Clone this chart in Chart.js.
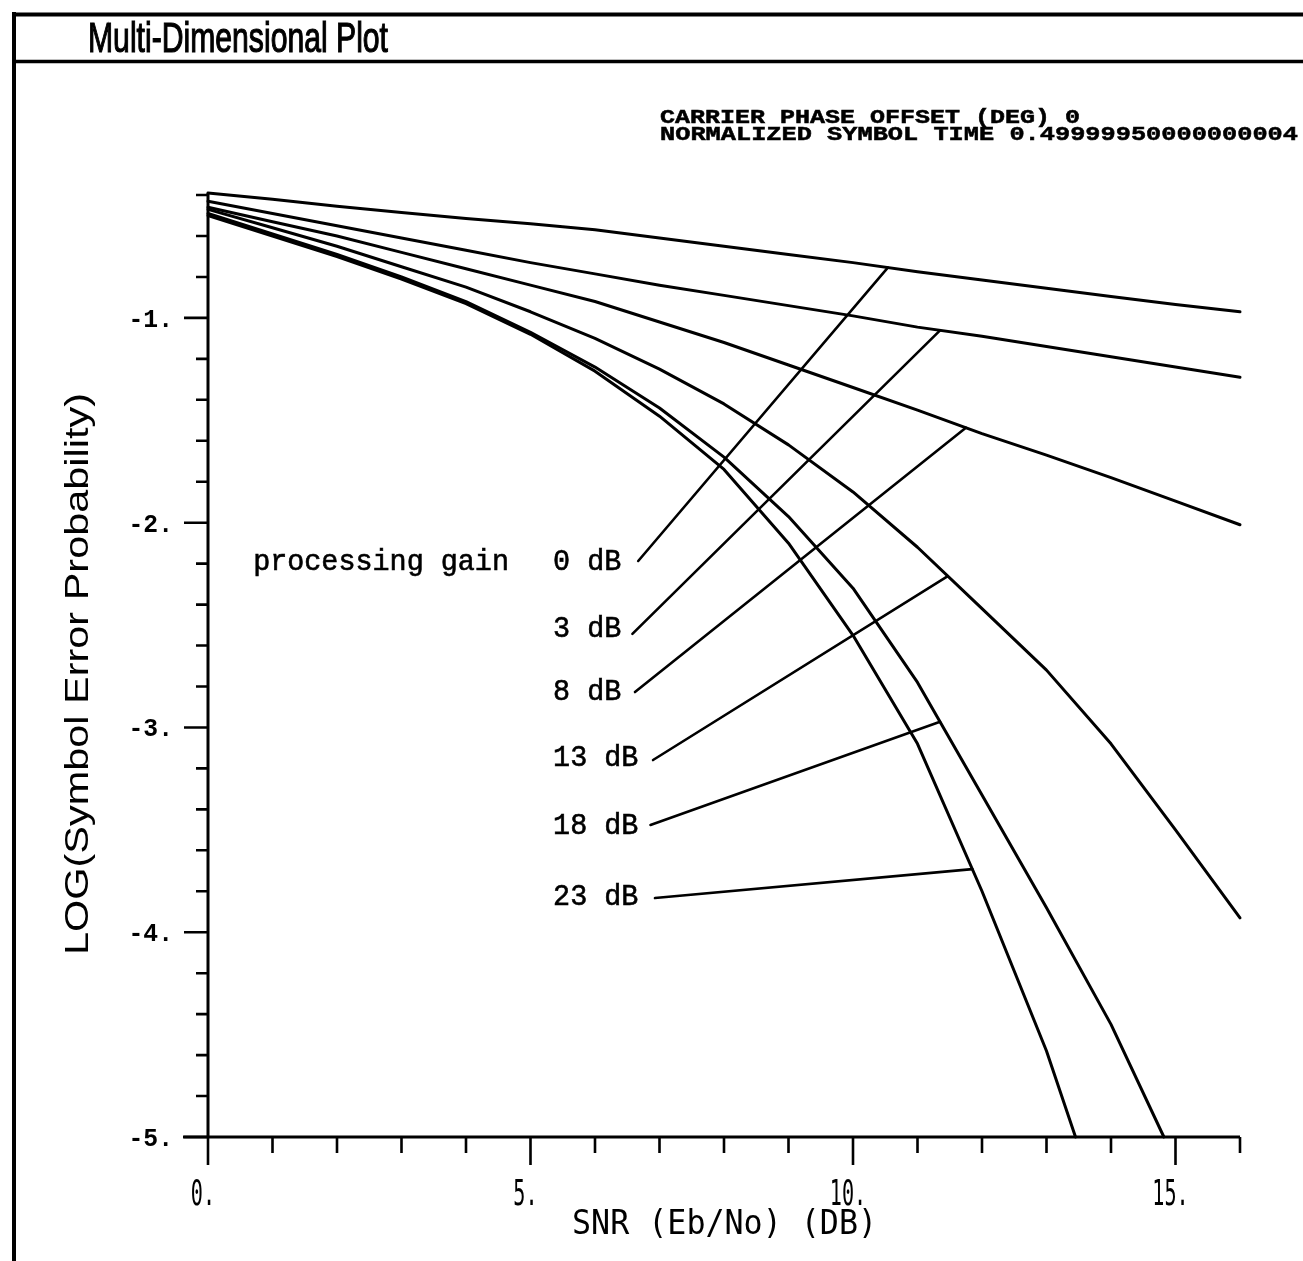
<!DOCTYPE html>
<html>
<head>
<meta charset="utf-8">
<title>Multi-Dimensional Plot</title>
<script src="https://cdn.jsdelivr.net/npm/chart.js@4/dist/chart.umd.min.js"></script>
<style>
  html, body { margin: 0; padding: 0; background: #fff; }
  canvas { display: block; }
</style>
</head>
<body>
<canvas id="plot" width="1303" height="1261"></canvas>
<script>
// SNR grid (Eb/No, dB)
const snr = [0, 1, 2, 3, 4, 5, 6, 7, 8, 9, 10, 11, 12, 13, 14, 15, 16];
const snr18 = [0, 1, 2, 3, 4, 5, 6, 7, 8, 9, 10, 11, 12, 13, 14, 14.82];
const snr23 = [0, 1, 2, 3, 4, 5, 6, 7, 8, 9, 10, 11, 12, 13, 13.45];

// log10 symbol error probability for each processing gain
const pg0  = [-0.39, -0.42, -0.455, -0.485, -0.515, -0.54, -0.57, -0.61, -0.65, -0.69, -0.73, -0.775, -0.815, -0.855, -0.895, -0.935, -0.97];
const pg3  = [-0.43, -0.49, -0.55, -0.61, -0.67, -0.73, -0.785, -0.84, -0.89, -0.94, -0.99, -1.045, -1.09, -1.14, -1.19, -1.24, -1.29];
const pg8  = [-0.46, -0.53, -0.60, -0.68, -0.76, -0.84, -0.92, -1.02, -1.12, -1.23, -1.34, -1.45, -1.565, -1.67, -1.78, -1.895, -2.01];
const pg13 = [-0.47, -0.56, -0.65, -0.75, -0.85, -0.97, -1.10, -1.25, -1.42, -1.62, -1.85, -2.12, -2.42, -2.72, -3.08, -3.50, -3.93];
const pg18 = [-0.49, -0.59, -0.69, -0.80, -0.92, -1.07, -1.24, -1.44, -1.68, -1.97, -2.32, -2.78, -3.33, -3.88, -4.45, -5.0];
const pg23 = [-0.50, -0.60, -0.70, -0.81, -0.93, -1.08, -1.26, -1.48, -1.74, -2.10, -2.55, -3.08, -3.80, -4.58, -5.0];

// curve labels
const gainLabels = ['0 dB', '3 dB', '8 dB', '13 dB', '18 dB', '23 dB'];

// tick labels
const xTickLabels = ['0.', '5.', '10.', '15.'];
const xTickValues = [0, 5, 10, 15];
const yTickLabels = ['-1.', '-2.', '-3.', '-4.', '-5.'];
const yTickValues = [-1, -2, -3, -4, -5];

// header notes
const headerLines = ['CARRIER PHASE OFFSET (DEG) 0', 'NORMALIZED SYMBOL TIME 0.49999950000000004'];

// leader geometry (data units): start near the label, end on the curve at snr = leaderEndSnr
const leaderStartSnr = [6.67, 6.58, 6.62, 6.90, 6.86, 6.93];
const leaderStartLog = [-2.187, -2.543, -2.827, -3.159, -3.476, -3.833];
const leaderEndSnr   = [10.54, 11.35, 11.75, 11.47, 11.35, 11.85];
// label anchors (data units, left edge / baseline)
const labelSnr = 5.35;
const labelLog = [-2.231, -2.558, -2.866, -3.188, -3.520, -3.867];
const captionSnr = 0.70;

const curves = [
  { xs: snr,   ys: pg0 },
  { xs: snr,   ys: pg3 },
  { xs: snr,   ys: pg8 },
  { xs: snr,   ys: pg13 },
  { xs: snr18, ys: pg18 },
  { xs: snr23, ys: pg23 }
];

function pairs(xs, ys) { return xs.map((x, i) => ({ x: x, y: ys[i] })); }

// value of a curve at snr v (piecewise linear between the tabulated points)
function curveAt(c, v) {
  for (let i = 0; i < c.xs.length - 1; i++) {
    if (v >= c.xs[i] && v <= c.xs[i + 1]) {
      const t = (v - c.xs[i]) / (c.xs[i + 1] - c.xs[i]);
      return c.ys[i] + t * (c.ys[i + 1] - c.ys[i]);
    }
  }
  return c.ys[c.ys.length - 1];
}

const datasets = [];
curves.forEach((c, i) => {
  datasets.push({
    label: 'PG ' + gainLabels[i],
    data: pairs(c.xs, c.ys),
    borderColor: '#000',
    borderWidth: 3,
    pointRadius: 0,
    tension: 0,
    borderJoinStyle: 'round',
    borderCapStyle: 'round',
    clip: false
  });
});
curves.forEach((c, i) => {
  datasets.push({
    label: 'leader ' + gainLabels[i],
    data: [
      { x: leaderStartSnr[i], y: leaderStartLog[i] },
      { x: leaderEndSnr[i], y: curveAt(c, leaderEndSnr[i]) }
    ],
    borderColor: '#000',
    borderWidth: 2.6,
    pointRadius: 0,
    tension: 0,
    borderCapStyle: 'round',
    clip: false
  });
});

// text helper: optional horizontal squeeze/stretch and fixed target width
function putText(ctx, text, x, y, o) {
  ctx.save();
  ctx.font = o.font;
  ctx.fillStyle = '#000';
  ctx.textBaseline = o.baseline || 'alphabetic';
  ctx.translate(x, y);
  if (o.rotate) ctx.rotate(o.rotate);
  const w = ctx.measureText(text).width;
  const sx = o.width ? o.width / w : (o.sx || 1);
  ctx.scale(sx, 1);
  let dx = 0;
  if (o.align === 'center') dx = -w / 2;
  else if (o.align === 'right') dx = -w;
  ctx.textAlign = 'left';
  ctx.fillText(text, dx, 0);
  if (o.stroke) {
    ctx.strokeStyle = '#000';
    ctx.lineWidth = o.stroke;
    ctx.strokeText(text, dx, 0);
  }
  ctx.restore();
}

const figurePlugin = {
  id: 'figure',
  beforeDatasetsDraw(chart) {
    const ctx = chart.ctx;
    const xs = chart.scales.x, ys = chart.scales.y;
    const X = v => xs.getPixelForValue(v);
    const Y = v => ys.getPixelForValue(v);
    ctx.save();
    ctx.strokeStyle = '#000';
    ctx.lineCap = 'butt';

    // frame and title bar
    ctx.lineWidth = 4;
    ctx.beginPath();
    ctx.moveTo(12, 14.5); ctx.lineTo(1303, 14.5);
    ctx.moveTo(14, 12);   ctx.lineTo(14, 1261);
    ctx.stroke();
    ctx.lineWidth = 3.5;
    ctx.beginPath();
    ctx.moveTo(12, 61.5); ctx.lineTo(1303, 61.5);
    ctx.stroke();

    // axes
    const x0 = X(0), yb = Y(-5);
    ctx.lineWidth = 3;
    ctx.beginPath();
    ctx.moveTo(x0, ys.top); ctx.lineTo(x0, yb + 1.5);
    ctx.moveTo(X(0) - 25, yb); ctx.lineTo(X(16), yb);
    ctx.stroke();

    // y ticks every 0.2, long at integers
    ctx.lineWidth = 2.6;
    ctx.beginPath();
    for (let k = 0; k <= 23; k++) {
      const v = -5 + k * 0.2;
      const major = Math.abs(v - Math.round(v)) < 1e-6;
      const py = Y(v);
      ctx.moveTo(x0, py); ctx.lineTo(x0 - (major ? 24 : 12), py);
    }
    // x ticks every 1, long at multiples of 5
    for (let v = 0; v <= 16; v++) {
      const major = v % 5 === 0;
      const px = X(v);
      ctx.moveTo(px, yb); ctx.lineTo(px, yb + (major ? 28 : 16));
    }
    ctx.stroke();
    ctx.restore();
  },
  afterDatasetsDraw(chart) {
    const ctx = chart.ctx;
    const xs = chart.scales.x, ys = chart.scales.y;
    const X = v => xs.getPixelForValue(v);
    const Y = v => ys.getPixelForValue(v);

    // title
    putText(ctx, 'Multi-Dimensional Plot', 88, 52, { font: '43px "Liberation Sans", Arial, sans-serif', width: 300, stroke: 1.2 });

    // header notes
    const hf = 'bold 20px "Liberation Mono", "Courier New", monospace';
    putText(ctx, headerLines[0], 660, 123, { font: hf, width: 420, stroke: 0.5 });
    putText(ctx, headerLines[1], 660, 140, { font: hf, width: 638, stroke: 0.5 });

    // y tick labels
    yTickValues.forEach((v, i) => {
      putText(ctx, yTickLabels[i], X(0) - 35, Y(v) + 9, { font: 'bold 26px "Liberation Mono", "Courier New", monospace', align: 'right', sx: 0.95 });
    });
    // x tick labels
    xTickValues.forEach((v, i) => {
      putText(ctx, xTickLabels[i], X(v) - 5, Y(-5) + 68, { font: '36px "DejaVu Sans Mono", monospace', align: 'center', sx: 0.56 });
    });

    // axis titles
    putText(ctx, 'SNR (Eb/No) (DB)', 572, 1234, { font: '34px "DejaVu Sans Mono", monospace', width: 305 });
    putText(ctx, 'LOG(Symbol Error Probability)', 88, 955, { font: '33px "Liberation Sans", Arial, sans-serif', width: 562, rotate: -Math.PI / 2 });

    // processing gain labels
    const lf = '29px "Liberation Mono", "Courier New", monospace';
    putText(ctx, 'processing gain', X(captionSnr), Y(labelLog[0]), { font: lf, sx: 0.98, stroke: 0.6 });
    gainLabels.forEach((t, i) => {
      putText(ctx, t, X(labelSnr), Y(labelLog[i]), { font: lf, sx: 0.98, stroke: 0.6 });
    });
  }
};

new Chart(document.getElementById('plot'), {
  type: 'line',
  data: { datasets: datasets },
  options: {
    responsive: false,
    animation: false,
    events: [],
    layout: { padding: { left: 208, right: 63, top: 193, bottom: 124 } },
    plugins: { legend: { display: false }, title: { display: false }, tooltip: { enabled: false } },
    scales: {
      x: { type: 'linear', min: 0, max: 16, display: false },
      y: { type: 'linear', min: -5, max: -0.39, display: false }
    }
  },
  plugins: [figurePlugin]
});
</script>
</body>
</html>
